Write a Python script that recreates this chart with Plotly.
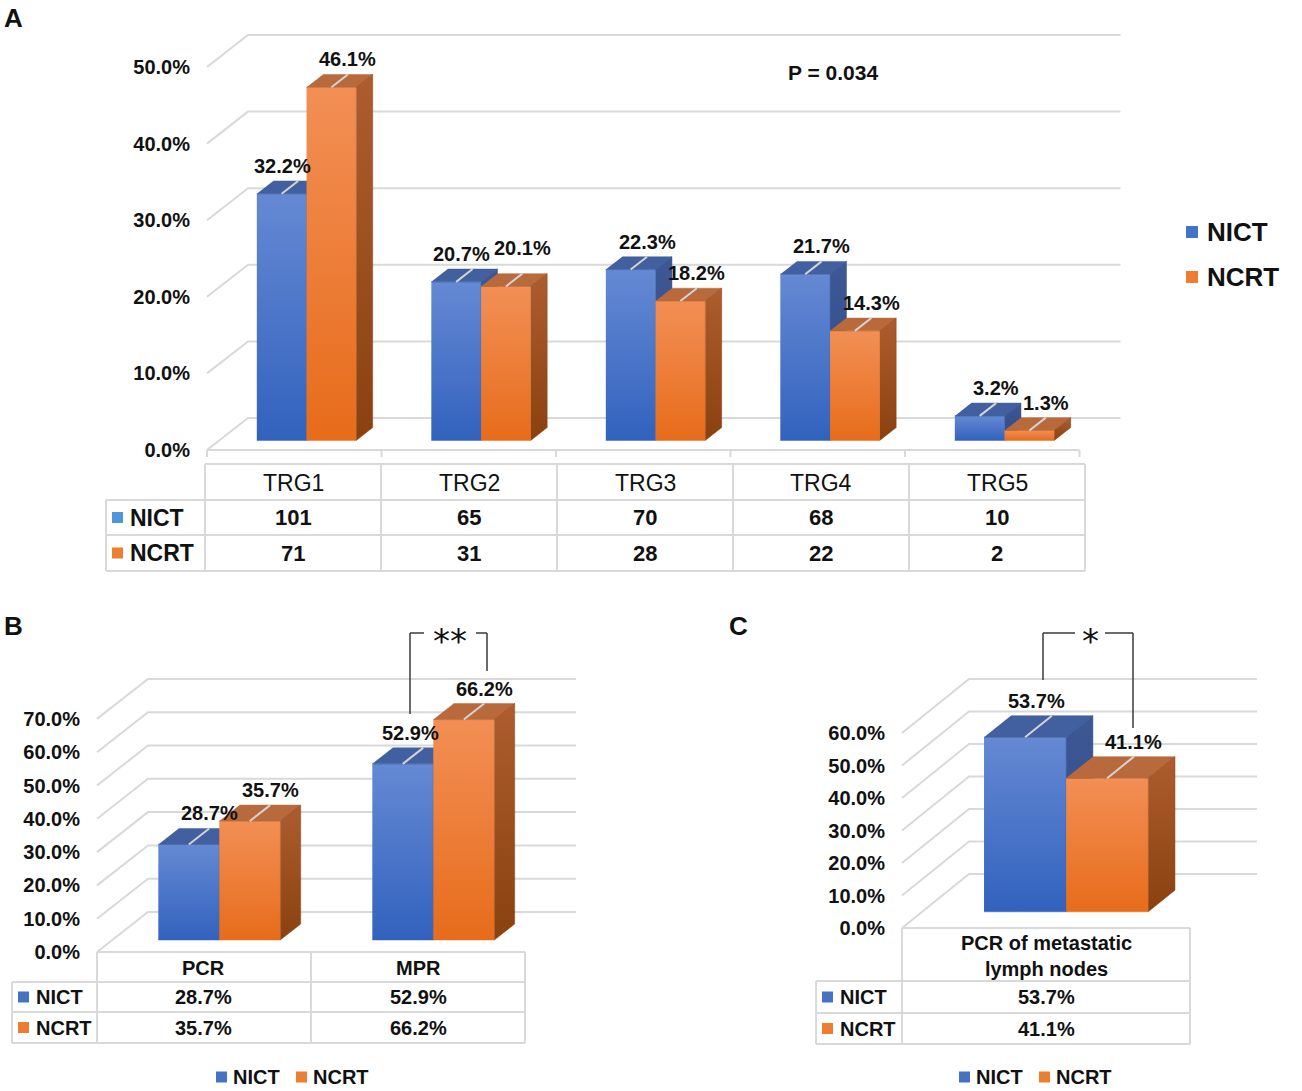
import plotly.graph_objects as go

W, H = 1302, 1091
FONT = "Liberation Sans, Arial, sans-serif"

# ---------------- data ----------------
series = ["NICT", "NCRT"]

trg_cats = ["TRG1", "TRG2", "TRG3", "TRG4", "TRG5"]
trg_nict_pct = [32.2, 20.7, 22.3, 21.7, 3.2]
trg_ncrt_pct = [46.1, 20.1, 18.2, 14.3, 1.3]
trg_nict_n = [101, 65, 70, 68, 10]
trg_ncrt_n = [71, 31, 28, 22, 2]
trg_p_text = "P = 0.034"

resp_cats = ["PCR", "MPR"]
resp_nict = [28.7, 52.9]
resp_ncrt = [35.7, 66.2]

ln_cats = ["PCR of metastatic<br>lymph nodes"]
ln_nict = [53.7]
ln_ncrt = [41.1]

# ---------------- style ----------------
BLUE = dict(front=("#3262be", "#6589d3"), top="#42609f", side=("#2f4a86", "#3d5895"), key="#4472c4")
ORANGE = dict(front=("#e76c1b", "#f28f55"), top="#b96a3d", side=("#8a410f", "#ad5d2f"), key="#ed7d31")
GRID = "#d9d9d9"

# pixel geometry of each panel (front plane origin, category width, scale, wall depth)
SPEC = {
    "A": dict(ax="", x0=207, cw=174.5, y0=450, ppu=7.66, wdx=41, wdy=32, top=20,
              ticks=[0, 10, 20, 30, 40, 50], floor=True, lab=(0, 15)),
    "B": dict(ax="2", x0=97, cw=214, y0=952, ppu=3.33, wdx=51, wdy=40, top=620,
              ticks=list(range(0, 80, 10)), floor=False, lab=(0, 15)),
    "C": dict(ax="3", x0=902, cw=288, y0=928, ppu=3.25, wdx=67, wdy=54, top=620,
              ticks=list(range(0, 70, 10)), floor=False, lab=(0, 15)),
}
# small manual nudges of value labels (panel, series, index) -> (dx, dy) px
NUDGE = {("A", 0, 0): (-16, 0), ("A", 0, 1): (-11, 0), ("A", 1, 1): (0, 11),
         ("B", 0, 1): (-13, 0), ("C", 0, 0): (-15, 0)}
BW = 0.285  # bar width in category units

fig = go.Figure()
annos = []
shapes = []


def px(x):
    return x / W


def py(y):
    return 1 - y / H


def text(x, y, t, size, bold=True, xanchor="center", color="#111111", family=FONT):
    annos.append(dict(x=px(x), y=py(y), xref="paper", yref="paper", text=f"<b>{t}</b>" if bold else t,
                      showarrow=False, xanchor=xanchor, yanchor="middle",
                      font=dict(family=family, size=size, color=color)))


def line(x1, y1, x2, y2, color=GRID, width=2):
    shapes.append(dict(type="line", xref="paper", yref="paper", x0=px(x1), y0=py(y1), x1=px(x2), y1=py(y2),
                       line=dict(color=color, width=width)))


def square(x, y, size, color):
    shapes.append(dict(type="rect", xref="paper", yref="paper", x0=px(x), x1=px(x + size),
                       y0=py(y - size / 2), y1=py(y + size / 2), fillcolor=color, line=dict(width=0)))


def add_panel(key, cats, nict, ncrt):
    s = SPEC[key]
    k = s["ax"]
    n = len(cats)
    xr, yr = "x" + k, "y" + k

    def X(c, d):
        return c + d * s["wdx"] / s["cw"]

    def Y(v, d):
        return v + d * s["wdy"] / s["ppu"]

    pad = 12
    left_px = s["x0"] - pad
    right_px = s["x0"] + n * s["cw"] + s["wdx"] + pad
    fig.update_layout({
        "xaxis" + k: dict(domain=[px(left_px), px(right_px)],
                          range=[-0.5 - pad / s["cw"], n - 0.5 + (s["wdx"] + pad) / s["cw"]],
                          visible=False, anchor=yr, fixedrange=True),
        "yaxis" + k: dict(domain=[py(s["y0"] + pad), py(s["top"])],
                          range=[-pad / s["ppu"], (s["y0"] - s["top"]) / s["ppu"]],
                          anchor=xr, tickvals=s["ticks"], ticktext=[f"<b>{v:.1f}%</b>" for v in s["ticks"]],
                          showgrid=False, zeroline=False, showline=False, ticks="",
                          ticklabelstandoff=4, fixedrange=True,
                          tickfont=dict(family=FONT, size=20, color="#111111")),
    })

    # walls: slanted side lines + back gridlines
    gx, gy = [], []
    for v in s["ticks"]:
        gx += [X(-0.5, 0), X(-0.5, 1), X(n - 0.5, 1), None]
        gy += [Y(v, 0), Y(v, 1), Y(v, 1), None]
    if s["floor"]:
        gx += [X(-0.5, 0), X(n - 0.5, 0), None]
        gy += [0, 0, None]
        for b in range(n + 1):
            gx += [X(b - 0.5, 0), X(b - 0.5, 0), None]
            gy += [0, -7 / s["ppu"], None]
    fig.add_trace(go.Scatter(x=gx, y=gy, mode="lines", line=dict(color=GRID, width=2),
                             xaxis=xr, yaxis=yr, hoverinfo="skip", showlegend=False))

    lx, ly = [], []
    for i in range(n):
        for j, (vals, pal) in enumerate([(nict, BLUE), (ncrt, ORANGE)]):
            v = vals[i]
            xl = i - BW + j * BW
            xrt = xl + BW
            faces = [
                ([X(xl, .3), X(xrt, .3), X(xrt, .3), X(xl, .3)],
                 [Y(0, .3), Y(0, .3), Y(v, .3), Y(v, .3)], pal["front"], (Y(0, .3), Y(v, .3))),
                ([X(xl, .3), X(xrt, .3), X(xrt, .7), X(xl, .7)],
                 [Y(v, .3), Y(v, .3), Y(v, .7), Y(v, .7)], pal["top"], None),
                ([X(xrt, .3), X(xrt, .7), X(xrt, .7), X(xrt, .3)],
                 [Y(0, .3), Y(0, .7), Y(v, .7), Y(v, .3)], pal["side"], (Y(0, .3), Y(v, .7))),
            ]
            for fx, fy, col, grad in faces:
                if grad is None:
                    fig.add_trace(go.Scatter(x=fx, y=fy, fill="toself", mode="lines", fillcolor=col,
                                             line=dict(color=col, width=0.5), xaxis=xr, yaxis=yr,
                                             hoverinfo="skip", showlegend=False))
                else:
                    fig.add_trace(go.Scatter(x=fx, y=fy, fill="toself", mode="lines",
                                             fillgradient=dict(type="vertical", start=grad[0], stop=grad[1],
                                                               colorscale=[[0, col[0]], [1, col[1]]]),
                                             line=dict(color=col[0], width=0.5), xaxis=xr, yaxis=yr,
                                             hoverinfo="skip", showlegend=False))
            cx = xl + BW / 2
            lx += [X(cx, .3), X(cx, .7), None]
            ly += [Y(v, .3), Y(v, .7), None]
            ndx, ndy = NUDGE.get((key, j, i), (0, 0))
            annos.append(dict(x=X(cx, .7), y=Y(v, .7), xref=xr, yref=yr, text=f"<b>{v:.1f}%</b>",
                              showarrow=False, xshift=s["lab"][0] + ndx, yshift=s["lab"][1] + ndy,
                              font=dict(family=FONT, size=20, color="#111111")))
    fig.add_trace(go.Scatter(x=lx, y=ly, mode="lines", line=dict(color="#d4d4d4", width=2),
                             xaxis=xr, yaxis=yr, hoverinfo="skip", showlegend=False))


def add_table(left, col0, cw, rows_y, headers, rows, hsize, hbold, vsize, lsize, keys):
    n = len(headers)
    right = col0 + n * cw
    top, hb, r1, bot = rows_y
    line(col0, top, right, top)
    for yy in (hb, r1, bot):
        line(left, yy, right, yy)
    line(left, hb, left, bot)
    for i in range(n + 1):
        line(col0 + i * cw, top, col0 + i * cw, bot)
    for i, h in enumerate(headers):
        text(col0 + (i + 0.5) * cw, (top + hb) / 2 + 1, h, hsize, bold=hbold)
    for (lab, vals), (y1, y2), kc in zip(rows, [(hb, r1), (r1, bot)], keys):
        yc = (y1 + y2) / 2
        square(left + 6, yc, 11, kc)
        text(left + 22, yc, lab, lsize, xanchor="left")
        for i, v in enumerate(vals):
            text(col0 + (i + 0.5) * cw, yc, v, vsize)


add_panel("A", trg_cats, trg_nict_pct, trg_ncrt_pct)
add_panel("B", resp_cats, resp_nict, resp_ncrt)
add_panel("C", ln_cats, ln_nict, ln_ncrt)

# data tables
add_table(106, 205, 176, (464, 500, 535, 571), trg_cats,
          [(series[0], [str(v) for v in trg_nict_n]), (series[1], [str(v) for v in trg_ncrt_n])],
          23, False, 22, 23, ["#4f98d8", ORANGE["key"]])
add_table(12, 97, 214, (952, 982, 1012, 1043), resp_cats,
          [(series[0], [f"{v:.1f}%" for v in resp_nict]), (series[1], [f"{v:.1f}%" for v in resp_ncrt])],
          20, True, 20, 20, [BLUE["key"], ORANGE["key"]])
add_table(816, 902, 288, (928, 981, 1013, 1044), ln_cats,
          [(series[0], [f"{v:.1f}%" for v in ln_nict]), (series[1], [f"{v:.1f}%" for v in ln_ncrt])],
          20, True, 20, 20, [BLUE["key"], ORANGE["key"]])

# legends
for name, yy, col in [(series[0], 232, BLUE["key"]), (series[1], 277, ORANGE["key"])]:
    square(1186, yy, 12, col)
    text(1205, yy, name, 26, xanchor="left")
for x_sq, name, col in [(216, series[0], BLUE["key"]), (296, series[1], ORANGE["key"])]:
    square(x_sq, 1077, 11, col)
    text(x_sq + 15, 1077, name, 20, xanchor="left")
for x_sq, name, col in [(959, series[0], BLUE["key"]), (1039, series[1], ORANGE["key"])]:
    square(x_sq, 1077, 11, col)
    text(x_sq + 15, 1077, name, 20, xanchor="left")

# panel letters, p value, significance brackets
text(13, 18, "A", 26)
text(13, 626, "B", 26)
text(738, 626, "C", 26)
text(833, 72, trg_p_text, 21)

BR = "#3a3a3a"
line(410, 714, 410, 633, BR, 1.5)
line(410, 633, 424, 633, BR, 1.5)
line(476, 633, 487, 633, BR, 1.5)
line(487, 633, 487, 671, BR, 1.5)
text(450, 641, "**", 34, bold=False, family="DejaVu Sans")
line(1043, 680, 1043, 633, BR, 1.5)
line(1043, 633, 1075, 633, BR, 1.5)
line(1105, 633, 1133, 633, BR, 1.5)
line(1133, 633, 1133, 728, BR, 1.5)
text(1090, 641, "*", 34, bold=False, family="DejaVu Sans")

fig.update_layout(width=W, height=H, margin=dict(l=0, r=0, t=0, b=0),
                  paper_bgcolor="white", plot_bgcolor="rgba(0,0,0,0)",
                  showlegend=False, annotations=annos, shapes=shapes)

fig.write_html("out.html", config={"displayModeBar": False},
               post_script="document.body.style.margin='0';")
